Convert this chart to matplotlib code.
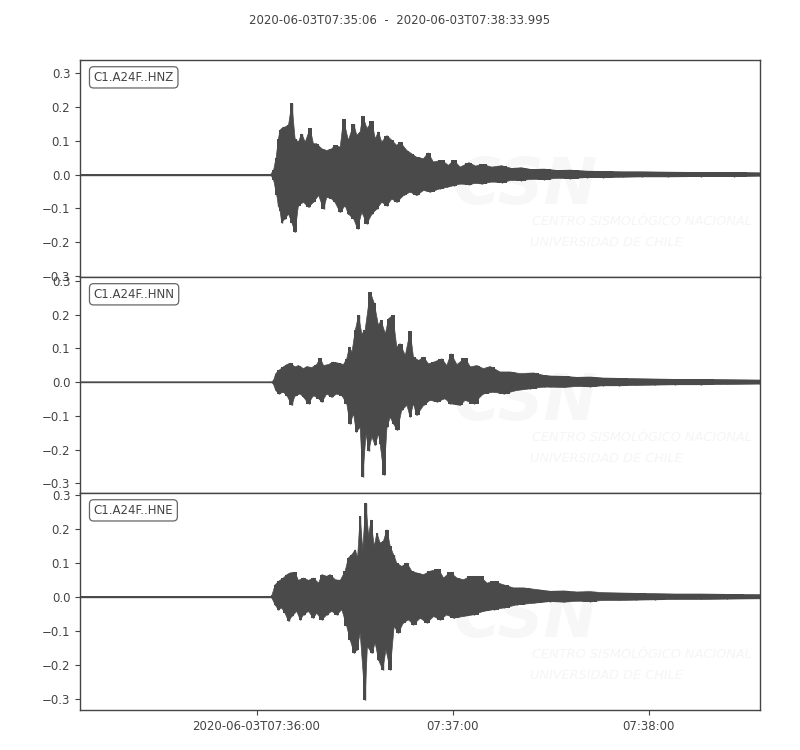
import matplotlib
matplotlib.use("Agg")
import matplotlib.pyplot as plt
import numpy as np

# ---------------- data ----------------
title_text = "2020-06-03T07:35:06  -  2020-06-03T07:38:33.995"
channels = ["C1.A24F..HNZ", "C1.A24F..HNN", "C1.A24F..HNE"]
duration = 207.995  # seconds after 07:35:06
xtick_secs = [54, 114, 174]
xtick_labels = ["2020-06-03T07:36:00", "07:37:00", "07:38:00"]
ytick_vals = [-0.3, -0.2, -0.1, 0.0, 0.1, 0.2, 0.3]

# --- HNZ: upper peaks (time s, value) and lower peaks ---
z_ut = [0, 58.3, 59.2, 60.0, 60.7, 61.2, 61.7, 62.2, 62.7, 63.8, 64.8, 65.8, 66.8, 67.8, 68.9, 70.4, 71.4,
        72.4, 74.0, 75.5, 77.0, 78.0, 79.6, 80.6, 82.1, 83.7, 84.7, 85.7, 86.5, 87.8, 89.3, 90.3, 91.3, 92.3,
        93.9, 95.4, 96.9, 97.9, 100.0, 101.5, 103.0, 105.1, 106.5, 108.1, 110.7, 112.7, 114.3, 116.3, 119,
        121, 123, 126, 129, 132, 135, 138, 142, 146, 150, 155, 160, 166, 172, 180, 190, 200, 207.995]
z_uv = [0.0, 0.0, 0.012, 0.05, 0.106, 0.131, 0.136, 0.14, 0.140, 0.147, 0.21, 0.106, 0.096, 0.12, 0.096,
        0.137, 0.091, 0.091, 0.076, 0.071, 0.076, 0.086, 0.081, 0.163, 0.101, 0.148, 0.116, 0.126, 0.173,
        0.136, 0.157, 0.106, 0.126, 0.096, 0.115, 0.101, 0.086, 0.096, 0.071, 0.061, 0.051, 0.047, 0.064,
        0.037, 0.042, 0.027, 0.042, 0.022, 0.035, 0.025, 0.03, 0.022, 0.026, 0.018, 0.02, 0.015, 0.016,
        0.012, 0.013, 0.010, 0.009, 0.008, 0.008, 0.007, 0.006, 0.006, 0.005]
z_lt = [0, 58.3, 59.2, 60.2, 60.7, 61.2, 61.7, 62.7, 63.8, 64.8, 65.8, 66.8, 68.4, 69.9, 71.4, 73.0, 74.5,
        75.5, 77.0, 78.0, 79.6, 81.1, 82.1, 83.7, 84.9, 86.2, 87.8, 89.3, 90.8, 92.3, 93.9, 95.4, 96.9, 99.0,
        101.0, 103.0, 105.1, 107.1, 110.2, 112.2, 114.3, 116.3, 119, 121, 123, 126, 129, 132, 135, 138, 142,
        146, 150, 155, 160, 166, 172, 180, 190, 200, 207.995]
z_lv = [0.0, 0.0, -0.015, -0.062, -0.092, -0.107, -0.142, -0.131, -0.117, -0.142, -0.171, -0.092, -0.082,
        -0.097, -0.082, -0.062, -0.102, -0.067, -0.072, -0.082, -0.112, -0.092, -0.117, -0.131, -0.160,
        -0.112, -0.145, -0.117, -0.102, -0.082, -0.092, -0.072, -0.082, -0.062, -0.052, -0.062, -0.047,
        -0.052, -0.042, -0.038, -0.033, -0.028, -0.03, -0.026, -0.028, -0.022, -0.024, -0.017, -0.018,
        -0.014, -0.015, -0.011, -0.012, -0.009, -0.009, -0.008, -0.007, -0.007, -0.006, -0.006, -0.005]

# --- HNN ---
n_ut = [0, 58.6, 59.2, 59.9, 60.9, 62.2, 63.3, 64.3, 65.8, 66.8, 68.4, 69.4, 70.9, 72.4, 73.5, 74.5, 76.0,
        77.5, 79.1, 80.6, 81.6, 82.4, 83.2, 84.2, 85.2, 86.2, 87.2, 88.8, 90.0, 91.3, 92.1, 93.4, 94.4, 95.7,
        96.9, 97.9, 99.5, 101.0, 102.0, 103.6, 105.1, 106.6, 108.2, 110.7, 112.2, 113.5, 115.3, 117.8, 119.4,
        121.4, 123.4, 125.5, 128.5, 131.6, 134.7, 138.8, 141.8, 143.9, 148, 152, 156, 160, 165, 170, 176,
        182, 190, 198, 207.995]
n_uv = [0.0, 0.0, 0.005, 0.025, 0.035, 0.045, 0.052, 0.056, 0.045, 0.049, 0.040, 0.046, 0.043, 0.052, 0.071,
        0.049, 0.052, 0.059, 0.056, 0.052, 0.069, 0.104, 0.089, 0.153, 0.198, 0.143, 0.153, 0.267, 0.234,
        0.168, 0.183, 0.143, 0.188, 0.198, 0.104, 0.114, 0.079, 0.151, 0.074, 0.064, 0.074, 0.054, 0.059,
        0.069, 0.049, 0.084, 0.052, 0.071, 0.045, 0.049, 0.040, 0.046, 0.030, 0.030, 0.025, 0.027, 0.020,
        0.018, 0.017, 0.014, 0.015, 0.012, 0.011, 0.010, 0.009, 0.008, 0.008, 0.007, 0.006]
n_lt = [0, 58.6, 59.2, 59.9, 60.9, 62.2, 63.3, 64.8, 65.8, 67.4, 68.4, 69.9, 71.4, 73.0, 74.0, 75.5, 77.0,
        78.6, 80.1, 81.6, 82.6, 83.7, 84.5, 85.7, 86.5, 87.5, 88.3, 89.3, 90.3, 91.3, 91.8, 93.0, 93.9, 94.9,
        95.9, 97.1, 98.4, 100.0, 101.0, 102.0, 103.0, 105.1, 107.1, 109.2, 111.7, 113.2, 116.3, 117.8, 120.4,
        123.4, 126.5, 129.6, 133.6, 137.7, 141.8, 143.9, 148, 152, 156, 160, 165, 170, 176, 182, 190, 198,
        207.995]
n_lv = [0.0, 0.0, -0.007, -0.025, -0.035, -0.030, -0.040, -0.069, -0.040, -0.035, -0.045, -0.064, -0.040,
        -0.049, -0.059, -0.035, -0.045, -0.035, -0.040, -0.064, -0.124, -0.094, -0.148, -0.134, -0.281,
        -0.153, -0.203, -0.163, -0.188, -0.153, -0.183, -0.276, -0.134, -0.104, -0.124, -0.143, -0.084,
        -0.069, -0.104, -0.064, -0.099, -0.069, -0.054, -0.059, -0.049, -0.064, -0.069, -0.054, -0.064,
        -0.035, -0.030, -0.035, -0.025, -0.020, -0.015, -0.015, -0.016, -0.013, -0.014, -0.011, -0.011,
        -0.010, -0.009, -0.008, -0.008, -0.007, -0.006]

# --- HNE ---
e_ut = [0, 58.4, 58.7, 59.7, 60.7, 62.2, 63.3, 64.3, 65.8, 66.8, 68.4, 69.9, 71.4, 73.0, 74.0, 75.5, 76.5,
        78.1, 79.6, 81.1, 82.1, 83.2, 84.2, 84.9, 85.7, 86.5, 87.4, 88.3, 89.0, 90.0, 90.8, 91.8, 92.8, 93.9,
        94.9, 95.9, 96.9, 98.4, 100.0, 101.5, 103.0, 105.1, 107.1, 109.7, 111.2, 113.2, 115.3, 117.3, 119.4,
        122.4, 124.5, 126.5, 129.6, 132.6, 135.7, 139.8, 143.9, 148, 152, 156, 160, 165, 170, 176, 182, 190,
        198, 207.995]
e_uv = [0.0, 0.0, 0.004, 0.035, 0.045, 0.055, 0.065, 0.070, 0.072, 0.048, 0.055, 0.048, 0.055, 0.040, 0.065,
        0.060, 0.065, 0.050, 0.048, 0.075, 0.114, 0.124, 0.138, 0.114, 0.236, 0.138, 0.276, 0.178, 0.226,
        0.148, 0.187, 0.158, 0.163, 0.197, 0.148, 0.124, 0.099, 0.089, 0.099, 0.075, 0.070, 0.065, 0.075,
        0.081, 0.055, 0.072, 0.055, 0.050, 0.060, 0.060, 0.040, 0.045, 0.035, 0.026, 0.026, 0.021, 0.016,
        0.017, 0.014, 0.015, 0.012, 0.011, 0.010, 0.009, 0.008, 0.008, 0.007, 0.006]
e_lt = [0, 58.4, 58.7, 59.7, 60.7, 61.7, 62.7, 63.8, 64.8, 66.3, 67.4, 68.4, 69.9, 71.4, 72.4, 74.0, 75.5,
        77.0, 78.6, 80.1, 81.6, 82.6, 83.9, 84.7, 85.7, 87.2, 87.9, 89.3, 90.3, 91.3, 92.6, 93.6, 94.9, 96.1,
        97.4, 98.9, 100.5, 102.0, 104.1, 106.1, 108.2, 110.2, 112.2, 114.3, 117.3, 120.4, 123.4, 126.5,
        129.6, 133.6, 138.8, 143.9, 148, 152, 156, 160, 165, 170, 176, 182, 190, 198, 207.995]
e_lv = [0.0, 0.0, -0.004, -0.024, -0.038, -0.033, -0.048, -0.072, -0.058, -0.043, -0.068, -0.053, -0.043,
        -0.063, -0.048, -0.068, -0.053, -0.043, -0.053, -0.038, -0.087, -0.126, -0.166, -0.156, -0.107,
        -0.303, -0.146, -0.166, -0.136, -0.185, -0.215, -0.156, -0.215, -0.087, -0.107, -0.077, -0.068,
        -0.082, -0.063, -0.077, -0.058, -0.068, -0.053, -0.063, -0.058, -0.053, -0.043, -0.038, -0.033,
        -0.024, -0.019, -0.014, -0.016, -0.013, -0.014, -0.011, -0.011, -0.010, -0.009, -0.008, -0.008,
        -0.007, -0.006]

ylims = [(-0.303, 0.3386), (-0.329, 0.3116), (-0.333, 0.305)]

# ---------------- drawing ----------------
trace_color = "#4a4a4a"
text_color = "#444444"
plt.rcParams["font.family"] = ["DejaVu Sans"]
plt.rcParams["font.size"] = 8.5

fig = plt.figure(figsize=(8, 7.5), dpi=100)
left, right = 80 / 800, 760 / 800
tops = [60, 277, 493]
bots = [277, 493, 710]

traces = [(z_ut, z_uv, z_lt, z_lv), (n_ut, n_uv, n_lt, n_lv), (e_ut, e_uv, e_lt, e_lv)]

for i in range(3):
    b = 1 - bots[i] / 750
    h = (bots[i] - tops[i]) / 750
    ax = fig.add_axes([left, b, right - left, h])
    ut, uv, lt, lv = traces[i]
    # faint watermark
    ax.text(0.55, 0.42, "CSN", transform=ax.transAxes, fontsize=46, fontweight="bold",
            fontstyle="italic", color="#f7f7f7", ha="left", va="center", zorder=0)
    ax.text(0.665, 0.255, "CENTRO SISMOLÓGICO NACIONAL", transform=ax.transAxes, fontsize=9.3,
            fontstyle="italic", color="#f5f5f5", ha="left", va="center", zorder=0)
    ax.text(0.662, 0.16, "UNIVERSIDAD DE CHILE", transform=ax.transAxes, fontsize=9.3,
            fontstyle="italic", color="#f5f5f5", ha="left", va="center", zorder=0)
    ax.fill_between(ut, 0, uv, step="mid", color=trace_color, lw=0, zorder=2)
    ax.fill_between(lt, lv, 0, step="mid", color=trace_color, lw=0, zorder=2)
    xs = np.concatenate([ut, lt[::-1]])
    ys = np.concatenate([uv, lv[::-1]])
    ax.fill(xs, ys, color=trace_color, lw=0.5, edgecolor=trace_color, zorder=2)
    ax.vlines(ut, 0, uv, color=trace_color, lw=1.0, zorder=2)
    ax.vlines(lt, 0, lv, color=trace_color, lw=1.0, zorder=2)
    ax.plot([ut[0], ut[1]], [0, 0], color=trace_color, lw=1.0, zorder=2)
    ax.set_xlim(0, duration)
    ax.set_ylim(*ylims[i])
    ax.set_yticks(ytick_vals)
    ax.set_yticklabels([f"{v:.1f}".replace("-", "\u2212") for v in ytick_vals])
    ax.tick_params(direction="out", length=3.5, width=0.8, colors=text_color, labelsize=8.5)
    for s in ax.spines.values():
        s.set_color(text_color)
        s.set_linewidth(1.0)
    ax.text(0.02, 0.95, channels[i], transform=ax.transAxes, ha="left", va="top", fontsize=8.5,
            color=text_color,
            bbox=dict(boxstyle="round,pad=0.35", fc="white", ec="#555555", lw=0.9, alpha=0.9), zorder=5)
    ax.set_xticks(xtick_secs)
    if i < 2:
        ax.tick_params(axis="x", bottom=False, labelbottom=False)
    else:
        ax.set_xticklabels(xtick_labels)

fig.text(0.5, 1 - 20 / 750, title_text, ha="center", va="center", fontsize=8.5, color=text_color)
fig.savefig("out.png", dpi=100)
